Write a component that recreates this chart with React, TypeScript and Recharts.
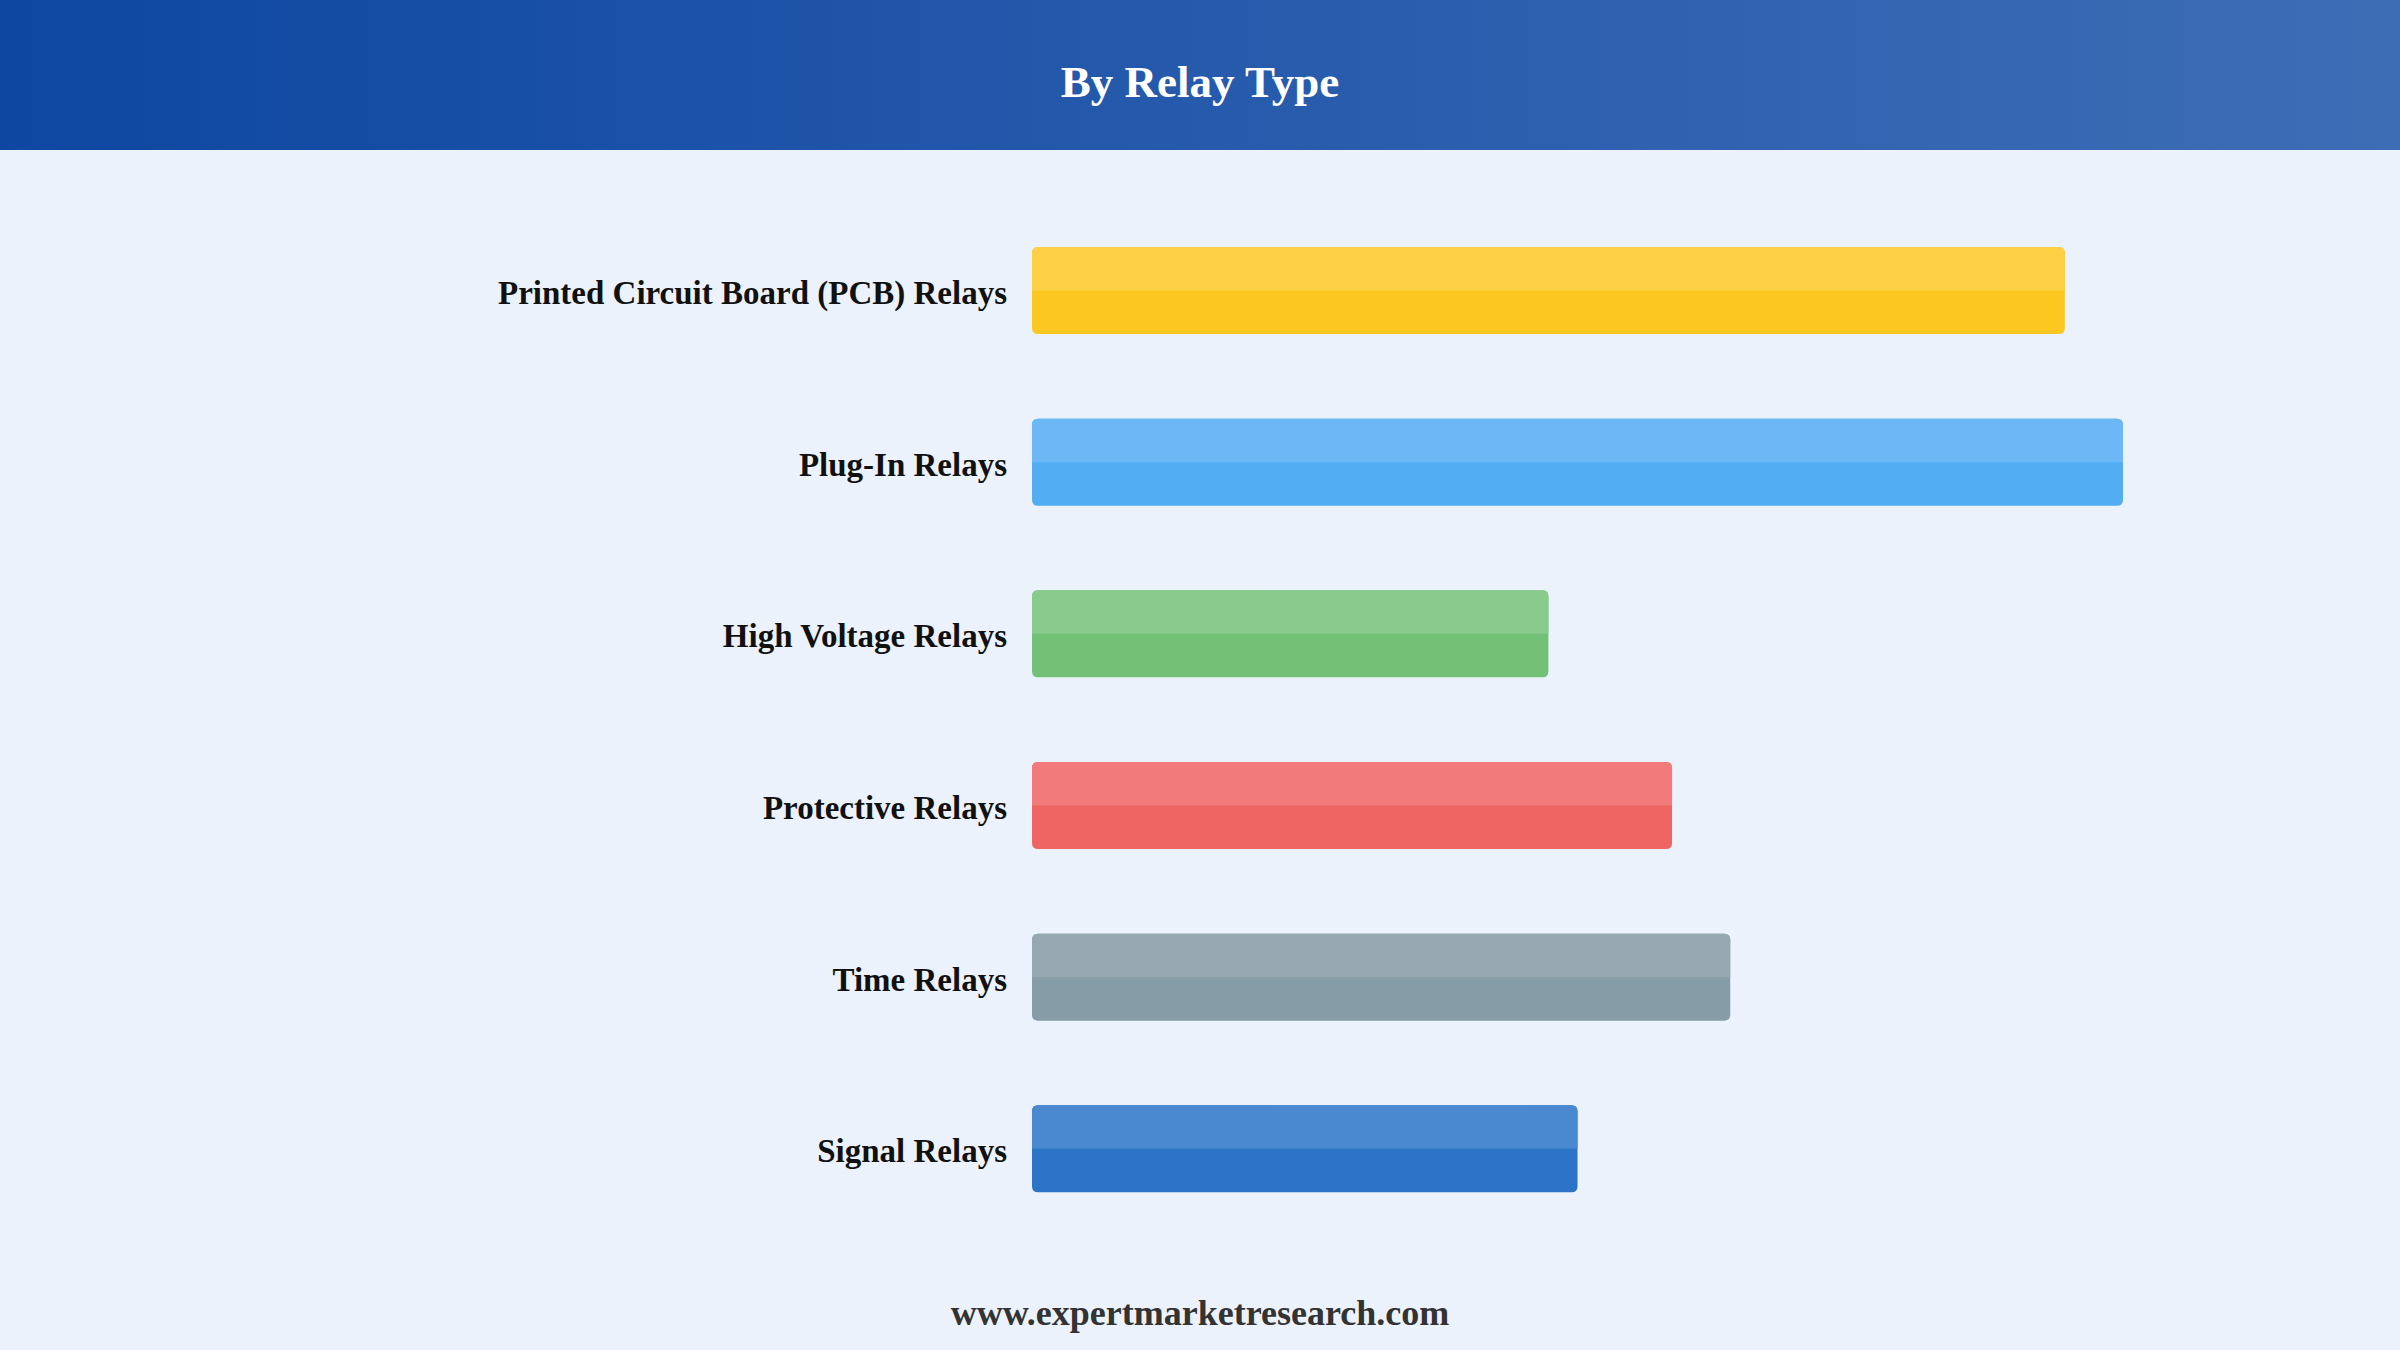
import { BarChart, Bar, XAxis, YAxis, Cell } from 'recharts';

const relayTypes = [
  'Printed Circuit Board (PCB) Relays',
  'Plug-In Relays',
  'High Voltage Relays',
  'Protective Relays',
  'Time Relays',
  'Signal Relays',
];
const shareValues = [28.4, 30, 14.2, 17.6, 19.2, 15];
const baseColors = ['#FCC721', '#52ADF3', '#72C177', '#EF6563', '#869CA6', '#2C74C8'];
const topColors = ['#FDD046', '#6CB7F5', '#89CB8C', '#F27A7A', '#97A8B0', '#4A89D0'];

const chartData = relayTypes.map((name, i) => ({ name, value: shareValues[i] }));

const serif = '"Liberation Serif", "Times New Roman", serif';

// bar with lighter top half and rounded corners
const GlossBar = (props: any) => {
  const { x, y, width, height, index } = props;
  if (!width || width <= 0) return null;
  const r = 6;
  const half = height / 2;
  const full = `M${x + r},${y} H${x + width - r} Q${x + width},${y} ${x + width},${y + r} V${y + height - r} Q${x + width},${y + height} ${x + width - r},${y + height} H${x + r} Q${x},${y + height} ${x},${y + height - r} V${y + r} Q${x},${y} ${x + r},${y} Z`;
  const top = `M${x + r},${y} H${x + width - r} Q${x + width},${y} ${x + width},${y + r} V${y + half} H${x} V${y + r} Q${x},${y} ${x + r},${y} Z`;
  return (
    <g>
      <path d={full} fill={baseColors[index]} />
      <path d={top} fill={topColors[index]} />
    </g>
  );
};

const LabelTick = (props: any) => {
  const { x, y, payload } = props;
  return (
    <text
      x={x - 25}
      y={y}
      dy="0.4em"
      textAnchor="end"
      fontFamily={serif}
      fontWeight="bold"
      fontSize={33}
      fill="#111"
    >
      {payload.value}
    </text>
  );
};

export default function App() {
  return (
    <div
      style={{
        position: 'absolute',
        left: 0,
        top: 0,
        width: 2400,
        height: 1350,
        background: '#EBF2FB',
        overflow: 'hidden',
      }}
    >
      <div
        style={{
          position: 'absolute',
          left: 0,
          top: 0,
          width: 2400,
          height: 150,
          background: 'linear-gradient(90deg, #0D47A1 0%, #2458AB 45%, #3D6DB5 100%)',
        }}
      />
      <div
        style={{
          position: 'absolute',
          left: 0,
          top: 52,
          width: 2400,
          textAlign: 'center',
          fontFamily: serif,
          fontWeight: 'bold',
          fontSize: 45,
          lineHeight: '60px',
          color: '#fff',
        }}
      >
        By Relay Type
      </div>
      <div style={{ position: 'absolute', left: 0, top: 0 }}>
        <BarChart
          width={2400}
          height={1350}
          data={chartData}
          layout="vertical"
          margin={{ top: 205, right: 277, bottom: 115, left: 0 }}
          barSize={87}
        >
          <XAxis type="number" domain={[0, 30]} hide />
          <YAxis
            type="category"
            dataKey="name"
            width={1032}
            axisLine={false}
            tickLine={false}
            tickSize={0}
            tickMargin={0}
            tick={<LabelTick />}
            interval={0}
          />
          <Bar dataKey="value" shape={<GlossBar />} isAnimationActive={false}>
            {chartData.map((d, i) => (
              <Cell key={d.name} fill={baseColors[i]} />
            ))}
          </Bar>
        </BarChart>
      </div>
      <div
        style={{
          position: 'absolute',
          left: 0,
          top: 1291,
          width: 2400,
          textAlign: 'center',
          fontFamily: serif,
          fontWeight: 'bold',
          fontSize: 36,
          lineHeight: '44px',
          color: '#333',
        }}
      >
        www.expertmarketresearch.com
      </div>
    </div>
  );
}
